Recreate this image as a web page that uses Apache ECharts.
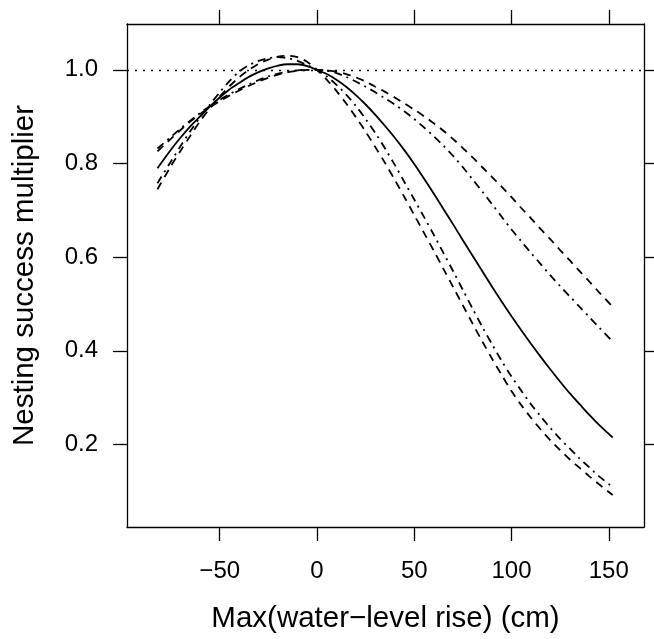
<!DOCTYPE html>
<html><head><meta charset="utf-8">
<script src="https://cdn.jsdelivr.net/npm/echarts@6/dist/echarts.min.js"></script>
<style>html,body{margin:0;padding:0;background:#fff}#c{width:654px;height:639px}</style>
</head><body><div id="c"></div>
<script>
// Max water-level rise (cm)
const xValues = [-82,-75,-70,-65,-60,-55,-50,-45,-40,-35,-30,-25,-20,-15,-10,-5,0,5,10,15,20,25,30,35,40,45,50,55,60,65,70,75,80,85,90,95,100,105,110,115,120,125,130,135,140,145,152];
// solid curve
const solidCurve = [0.790,0.830,0.856,0.880,0.901,0.922,0.941,0.958,0.972,0.985,0.995,1.003,1.009,1.012,1.012,1.008,1.000,0.991,0.979,0.964,0.946,0.926,0.904,0.880,0.855,0.828,0.799,0.768,0.736,0.703,0.670,0.636,0.603,0.570,0.537,0.505,0.474,0.444,0.415,0.387,0.360,0.334,0.309,0.286,0.263,0.242,0.215];
// dashed, flatter (upper at right)
const dashedUpper = [0.826,0.853,0.872,0.890,0.906,0.920,0.933,0.945,0.956,0.966,0.975,0.983,0.990,0.995,0.998,1.000,1.000,0.999,0.996,0.991,0.984,0.975,0.964,0.953,0.941,0.928,0.915,0.901,0.886,0.870,0.852,0.833,0.813,0.792,0.771,0.750,0.728,0.705,0.683,0.660,0.638,0.615,0.593,0.570,0.548,0.525,0.494];
// dash-dot, flatter
const dashDotUpper = [0.832,0.857,0.875,0.892,0.908,0.923,0.936,0.948,0.959,0.969,0.978,0.986,0.992,0.996,0.999,1.000,1.000,0.998,0.993,0.985,0.975,0.964,0.952,0.939,0.926,0.911,0.895,0.877,0.858,0.838,0.816,0.792,0.766,0.740,0.713,0.686,0.659,0.634,0.609,0.585,0.561,0.538,0.516,0.494,0.472,0.450,0.420];
// dashed, peaked (lowest at right)
const dashedLower = [0.745,0.795,0.828,0.860,0.891,0.918,0.943,0.965,0.984,1.000,1.013,1.022,1.028,1.030,1.027,1.017,1.000,0.979,0.955,0.928,0.899,0.868,0.835,0.801,0.765,0.728,0.690,0.652,0.614,0.575,0.536,0.497,0.458,0.420,0.383,0.348,0.314,0.284,0.257,0.232,0.209,0.188,0.168,0.150,0.132,0.115,0.092];
// dash-dot, peaked
const dashDotLower = [0.758,0.805,0.838,0.870,0.899,0.926,0.952,0.976,0.996,1.010,1.019,1.025,1.027,1.025,1.019,1.010,1.000,0.986,0.968,0.947,0.923,0.895,0.865,0.832,0.797,0.760,0.723,0.686,0.648,0.609,0.570,0.530,0.490,0.451,0.414,0.378,0.345,0.315,0.286,0.260,0.235,0.212,0.191,0.170,0.151,0.132,0.109];

const xTicks = [-50, 0, 50, 100, 150];
const yTicks = [0.2, 0.4, 0.6, 0.8, 1.0];
const referenceLevel = 1.0;
const xTitle = 'Max(water\u2212level rise) (cm)';
const yTitle = 'Nesting success multiplier';

const FONT = '"Liberation Sans", Arial, Helvetica, sans-serif';
const X_MIN = -97.66, X_MAX = 168.1, Y_MIN = 0.0238, Y_MAX = 1.0979;

const pairs = arr => xValues.map((x, i) => [x, arr[i]]);
const xFmt = v => String(v).replace('-', '\u2212');
const yFmt = v => Number(v).toFixed(1);

function xAxisCfg(pos, labels) {
  return {
    type: 'value', position: pos, min: X_MIN, max: X_MAX,
    axisLine: { show: true, onZero: false, lineStyle: { color: '#000', width: 1.3 } },
    axisTick: { show: true, inside: false, length: 14, customValues: xTicks, lineStyle: { color: '#000', width: 1.3 } },
    axisLabel: { show: labels, customValues: xTicks, margin: 32, fontSize: 24, color: '#000', fontFamily: FONT, formatter: xFmt },
    splitLine: { show: false },
    name: labels ? xTitle : '', nameLocation: 'middle', nameGap: 77,
    nameTextStyle: { fontSize: 29.5, color: '#000', fontFamily: FONT }
  };
}
function yAxisCfg(pos, labels) {
  return {
    type: 'value', position: pos, min: Y_MIN, max: Y_MAX,
    axisLine: { show: true, onZero: false, lineStyle: { color: '#000', width: 1.3 } },
    axisTick: { show: true, inside: false, length: 14, customValues: yTicks, lineStyle: { color: '#000', width: 1.3 } },
    axisLabel: { show: labels, customValues: yTicks, margin: 29, fontSize: 24, color: '#000', fontFamily: FONT, formatter: yFmt },
    splitLine: { show: false },
    name: labels ? yTitle : '', nameLocation: 'middle', nameGap: 87, nameRotate: 90,
    nameTextStyle: { fontSize: 29.5, color: '#000', fontFamily: FONT }
  };
}

function lineSeries(arr, dash, extra) {
  return Object.assign({
    type: 'line', data: pairs(arr), xAxisIndex: 0, yAxisIndex: 0,
    symbol: 'none', showSymbol: false, smooth: 0.3, silent: true,
    lineStyle: { color: '#000', width: 1.8, type: dash }
  }, extra || {});
}

const chart = echarts.init(document.getElementById('c'), null, { renderer: 'canvas' });
chart.setOption({
  animation: false,
  backgroundColor: '#fff',
  grid: { left: 127, right: 10, top: 24, bottom: 110 },
  xAxis: [xAxisCfg('bottom', true), xAxisCfg('top', false)],
  yAxis: [yAxisCfg('left', true), yAxisCfg('right', false)],
  series: [
    lineSeries(solidCurve, 'solid', {
      markLine: {
        silent: true, symbol: ['none', 'none'], label: { show: false },
        lineStyle: { color: '#000', width: 1.4, type: [2, 6] },
        data: [{ yAxis: referenceLevel }]
      }
    }),
    lineSeries(dashedUpper, [8, 6]),
    lineSeries(dashDotUpper, [8, 5, 2, 5]),
    lineSeries(dashedLower, [8, 6]),
    lineSeries(dashDotLower, [8, 5, 2, 5])
  ]
});
</script>
</body></html>
